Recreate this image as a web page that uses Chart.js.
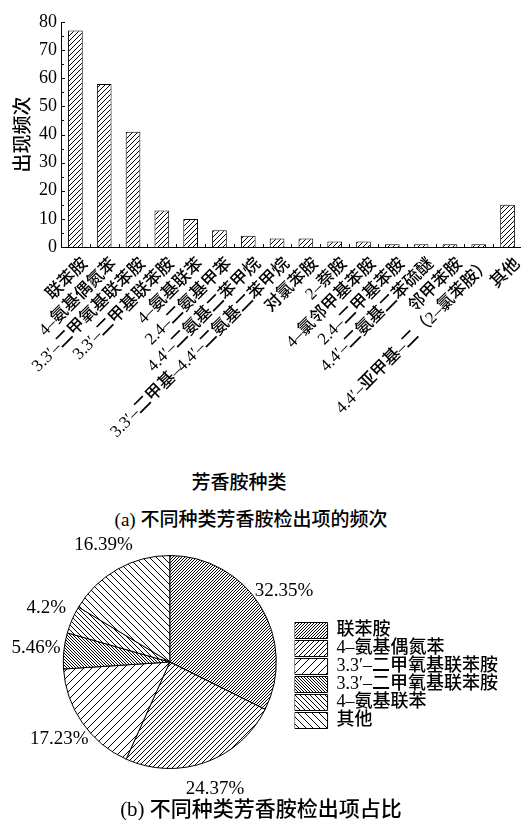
<!DOCTYPE html>
<html>
<head>
<meta charset="utf-8">
<script src="https://cdn.jsdelivr.net/npm/chart.js@4.4.1/dist/chart.umd.min.js"></script>
<style>
  html, body { margin: 0; padding: 0; background: #fff; overflow: hidden; width: 521px; height: 820px; }
  .box { position: absolute; left: 0; }
  .cap {
    position: absolute; text-align: center; white-space: nowrap; color: #000;
    font-family: 'Liberation Serif', 'Noto Sans CJK SC Medium', 'Noto Sans CJK SC', serif;
    line-height: 24px; height: 24px;
  }
</style>
</head>
<body>
<div class="box" style="top:0; width:529px; height:460px;"><canvas id="barChart"></canvas></div>
<div class="cap" style="left:139px; width:200px; top:471px; font-size:19px;">芳香胺种类</div>
<div class="cap" style="left:51px; width:400px; top:508px; font-size:19px;">(a) 不同种类芳香胺检出项的频次</div>
<div class="box" style="top:520px; width:521px; height:280px;"><canvas id="pieChart"></canvas></div>
<div class="cap" style="left:61px; width:400px; top:797px; font-size:21px;">(b) 不同种类芳香胺检出项占比</div>

<script>
// 芳香胺种类及出现频次
const amines = [
    '联苯胺', '4–氨基偶氮苯', '3.3′–二甲氧基联苯胺', '3.3′–二甲基联苯胺',
    '4–氨基联苯', '2.4–二氨基甲苯', '4.4′–二氨基二苯甲烷',
    '3.3′–二甲基–4.4′–二氨基二苯甲烷', '对氯苯胺', '2–萘胺', '4–氯邻甲基苯胺',
    '2.4–二甲基苯胺', '4.4′–二氨基二苯硫醚', '邻甲苯胺',
    '4.4′–亚甲基–二（2–氯苯胺）', '其他'
];
const counts = [77, 58, 41, 13, 10, 6, 4, 3, 3, 2, 2, 1, 1, 1, 1, 15];
const yMin = 0, yMax = 80, yStep = 10, yMinorStep = 5;

// 占比（%）
const shareLabels = ['联苯胺', '4–氨基偶氮苯', '3.3′–二甲氧基联苯胺', '3.3′–二甲氧基联苯胺', '4–氨基联苯', '其他'];
const shares = [32.35, 24.37, 17.23, 5.46, 4.2, 16.39];

const FONT = "'Liberation Serif', 'Noto Sans CJK SC Medium', 'Noto Sans CJK SC', serif";
Chart.defaults.color = '#000';
Chart.defaults.font.family = FONT;

// 斜线填充
function hatch(size, dir) {
    const c = document.createElement('canvas');
    c.width = c.height = size;
    const g = c.getContext('2d');
    g.fillStyle = '#fff';
    g.fillRect(0, 0, size, size);
    g.strokeStyle = '#000';
    g.lineWidth = 1;
    g.beginPath();
    if (dir === '/') {
        g.moveTo(0, size); g.lineTo(size, 0);
        g.moveTo(-1, 1); g.lineTo(1, -1);
        g.moveTo(size - 1, size + 1); g.lineTo(size + 1, size - 1);
    } else {
        g.moveTo(0, 0); g.lineTo(size, size);
        g.moveTo(-1, size - 1); g.lineTo(1, size + 1);
        g.moveTo(size - 1, -1); g.lineTo(size + 1, 1);
    }
    g.stroke();
    return g.createPattern(c, 'repeat');
}

// 坐标轴内向刻度
const inwardTicks = {
    id: 'inwardTicks',
    afterDraw(chart) {
        const {ctx, chartArea, scales: {x, y}} = chart;
        ctx.save();
        ctx.strokeStyle = '#000';
        ctx.lineWidth = 1;
        ctx.beginPath();
        for (let v = yMin; v <= yMax; v += yMinorStep) {
            const py = Math.round(y.getPixelForValue(v)) + 0.5;
            const len = v % yStep === 0 ? 4 : 3;
            ctx.moveTo(chartArea.left, py);
            ctx.lineTo(chartArea.left + len, py);
        }
        for (let i = 1; i < amines.length; i++) {
            const px = Math.round((x.getPixelForValue(i - 1) + x.getPixelForValue(i)) / 2) + 0.5;
            ctx.moveTo(px, chartArea.bottom);
            ctx.lineTo(px, chartArea.bottom - 3);
        }
        ctx.stroke();
        ctx.restore();
    }
};

new Chart(document.getElementById('barChart'), {
    type: 'bar',
    data: {
        labels: amines,
        datasets: [{
            data: counts,
            backgroundColor: hatch(5, '/'),
            borderColor: '#000',
            borderWidth: 1,
            barPercentage: 0.51,
            categoryPercentage: 1
        }]
    },
    options: {
        responsive: true,
        maintainAspectRatio: false,
        animation: false,
        layout: { autoPadding: false, padding: { top: 22, right: 1, left: 0, bottom: 0 } },
        plugins: { legend: { display: false }, tooltip: { enabled: false } },
        scales: {
            x: {
                offset: true,
                grid: { display: false, drawTicks: false },
                border: { display: true, color: '#000', width: 1 },
                ticks: {
                    autoSkip: false, maxRotation: 45, minRotation: 45, padding: 7, labelOffset: 10,
                    font: { family: FONT, size: 17 }
                },
                afterFit(scale) { scale.height = 213; }
            },
            y: {
                min: yMin, max: yMax,
                grid: { display: false, drawTicks: false },
                border: { display: true, color: '#000', width: 1 },
                ticks: { stepSize: yStep, padding: 4, font: { family: FONT, size: 18 } },
                title: {
                    display: true, text: '出现频次',
                    font: { family: FONT, size: 19 },
                    padding: { top: 13, bottom: 0 }
                },
                afterFit(scale) { scale.width = 61; }
            }
        }
    },
    plugins: [inwardTicks]
});

// 饼图百分比标注
const pctLabels = {
    id: 'pctLabels',
    afterDatasetsDraw(chart) {
        const {ctx} = chart;
        const meta = chart.getDatasetMeta(0);
        ctx.save();
        ctx.font = '19px ' + FONT;
        ctx.fillStyle = '#000';
        ctx.textAlign = 'center';
        ctx.textBaseline = 'middle';
        meta.data.forEach((arc, i) => {
            const {x, y, startAngle, endAngle, outerRadius} = arc.getProps(['x', 'y', 'startAngle', 'endAngle', 'outerRadius'], true);
            const mid = (startAngle + endAngle) / 2;
            const d = outerRadius + 28;
            ctx.fillText(shares[i] + '%', x + Math.cos(mid) * d, y + Math.sin(mid) * d);
        });
        ctx.restore();
    }
};

new Chart(document.getElementById('pieChart'), {
    type: 'pie',
    data: {
        labels: shareLabels,
        datasets: [{
            data: shares,
            backgroundColor: [hatch(3, '/'), hatch(5, '/'), hatch(8, '/'), hatch(3, '\\'), hatch(5, '\\'), hatch(7, '\\')],
            borderColor: '#000',
            borderWidth: 1
        }]
    },
    options: {
        responsive: true,
        maintainAspectRatio: false,
        animation: false,
        layout: { autoPadding: false, padding: { top: 35, right: 13, left: 45, bottom: 31 } },
        plugins: {
            tooltip: { enabled: false },
            legend: {
                position: 'right',
                align: 'center',
                title: { display: true, text: ' ', font: { size: 2, lineHeight: 1 }, padding: { top: 25, bottom: 0 } },
                labels: {
                    boxWidth: 33, boxHeight: 16, padding: 0,
                    font: { family: FONT, size: 18 }
                }
            }
        }
    },
    plugins: [pctLabels]
});
</script>
</body>
</html>
